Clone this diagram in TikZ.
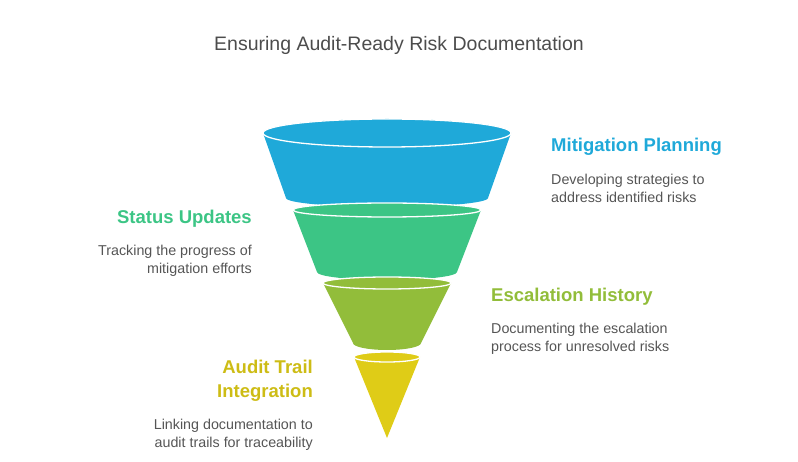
\documentclass[tikz,border=0pt]{standalone}
\usepackage{fontspec}
\setmainfont{Liberation Sans}
\definecolor{cblue}{HTML}{1FA9D9}
\definecolor{cgreen}{HTML}{3CC585}
\definecolor{colive}{HTML}{92BD3A}
\definecolor{cyellow}{HTML}{DFCC17}
\definecolor{ctext}{HTML}{555555}
\tikzset{
  head/.style={font=\fontsize{18.5}{24}\selectfont\bfseries, inner sep=0pt},
  desc/.style={font=\fontsize{14.3}{17.5}\selectfont, text=ctext, inner sep=0pt},
  rim/.style={draw=white, line width=1.3pt}
}
% layer: color, cx, top cy, top rx, top ry, bottom cy, bottom rx, bottom ry
\newcommand{\funnellayer}[8]{
  \fill [#1] (#2-#4,#3) -- (#2-#7,#6) arc [start angle=180, end angle=360, x radius=#7, y radius=-#8]
    -- (#2+#4,#3) arc [start angle=0, end angle=-180, x radius=#4, y radius=#5] -- cycle;
  \draw [rim, fill=#1] (#2,#3) ellipse [x radius=#4, y radius=#5];
}
\begin{document}
\begin{tikzpicture}[x=1pt,y=-1pt]
  \useasboundingbox (0,0) rectangle (798,462);
  \node [font=\fontsize{19.5}{24}\selectfont, text=ctext!90!black] (title) at (399,45) {Ensuring Audit-Ready Risk Documentation};
  % funnel
  \funnellayer{cblue}{387}{133}{124}{14}{198}{101}{9}
  \funnellayer{cgreen}{387}{210}{94}{7}{272}{70}{8}
  \funnellayer{colive}{387}{283}{64}{6}{343}{34}{7}
  \fill [cyellow] (354,357) -- (387,438) -- (420,357) arc [start angle=0, end angle=-180, x radius=33, y radius=5] -- cycle;
  \draw [rim, fill=cyellow] (387,357) ellipse [x radius=33, y radius=5];
  % labels
  \node [head, text=cblue, anchor=west] (mitig) at (551,147) {Mitigation Planning};
  \node [desc, anchor=north west, align=left] (mitigtxt) at (551,174) {Developing strategies to\\address identified risks};
  \node [head, text=cgreen, anchor=east] (status) at (252,219) {Status Updates};
  \node [desc, anchor=north east, align=right] (statustxt) at (252,245) {Tracking the progress of\\mitigation efforts};
  \node [head, text=colive, anchor=west] (escal) at (491,297) {Escalation History};
  \node [desc, anchor=north west, align=left] (escaltxt) at (491,323) {Documenting the escalation\\process for unresolved risks};
  \node [head, text=cyellow!92!black, anchor=east, align=right] (audit) at (313,381) {Audit Trail\\Integration};
  \node [desc, anchor=north east, align=right] (audittxt) at (313,419) {Linking documentation to\\audit trails for traceability};
\end{tikzpicture}
\end{document}
